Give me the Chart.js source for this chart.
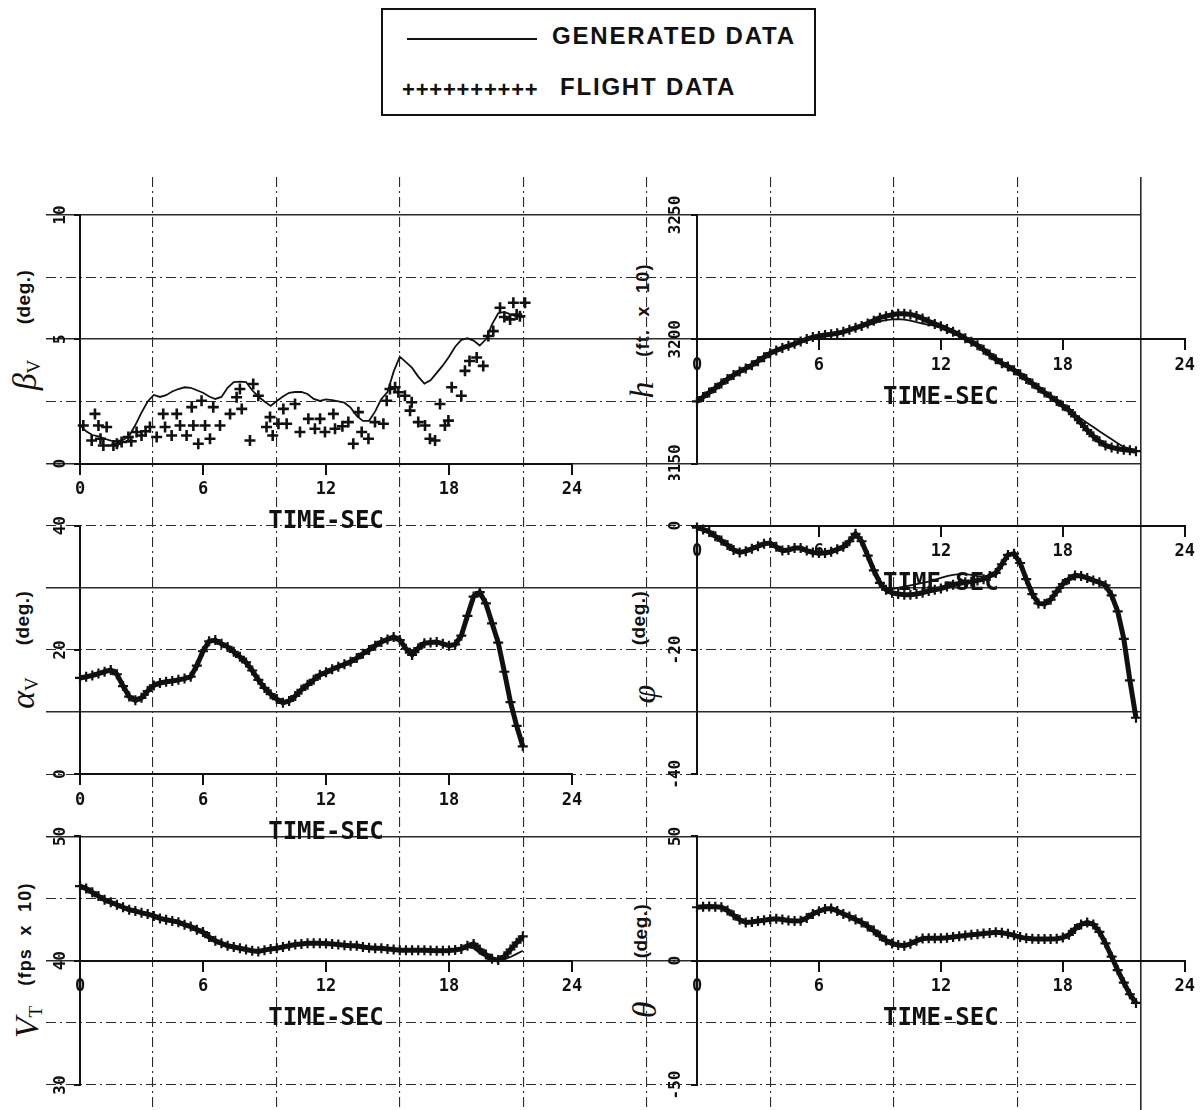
<!DOCTYPE html>
<html lang="en">
<head>
  <meta charset="UTF-8">
  <title>Generated data vs flight data</title>
  <script src="https://cdn.jsdelivr.net/npm/chart.js@4.4.0/dist/chart.umd.min.js"></script>
  <style>
    html, body { margin: 0; padding: 0; background: #fff; }
    body { position: relative; width: 1201px; height: 1110px; overflow: hidden; font-family: "Liberation Sans", Arial, sans-serif; color: #111; }
    canvas { position: absolute; }
    .legend { position: absolute; left: 381px; top: 8px; width: 435px; height: 108px; border: 2px solid #111; box-sizing: border-box; }
    .legend div { position: absolute; white-space: nowrap; }
    .key-line { left: 24px; top: 28px; width: 130px; height: 2px; background: #111; }
    .key-text { font-weight: bold; font-size: 24px; line-height: 24px; letter-spacing: 1.8px; }
    .key-plus { font-weight: bold; font-size: 22px; line-height: 22px; letter-spacing: 0.8px; }
    .vlab { position: absolute; white-space: nowrap; transform: translate(-50%, -50%) rotate(-90deg); line-height: 1; }
    .sym { font-family: "Liberation Serif", serif; font-style: italic; font-size: 34px; }
    .sym sub { font-size: 19px; font-style: normal; vertical-align: -4px; }
    .unit { font-size: 19px; font-weight: bold; letter-spacing: 0.5px; }
    .unit.w { font-size: 18px; letter-spacing: 1.2px; }
  </style>
</head>
<body>
  <div class="legend">
    <div class="key-line"></div>
    <div class="key-text" style="left:169px; top:14px;">GENERATED DATA</div>
    <div class="key-plus" style="left:19px; top:69px;">++++++++++</div>
    <div class="key-text" style="left:177px; top:65px;">FLIGHT DATA</div>
  </div>

  <!-- axis names, left column -->
  <div class="vlab sym" style="left:25px; top:375px;">β<sub>V</sub></div>
  <div class="vlab unit" style="left:23px; top:297px;">(deg.)</div>
  <div class="vlab sym" style="left:23px; top:693px;">α<sub>V</sub></div>
  <div class="vlab unit" style="left:22px; top:618px;">(deg.)</div>
  <div class="vlab sym" style="left:27px; top:1022px;">V<sub>T</sub></div>
  <div class="vlab unit w" style="left:25px; top:934px;">(fps&nbsp; x&nbsp; 10)</div>
  <!-- axis names, right column -->
  <div class="vlab sym" style="left:642px; top:390px;">h</div>
  <div class="vlab unit w" style="left:643px; top:310px;">(ft.&nbsp; x&nbsp; 10)</div>
  <div class="vlab sym" style="left:644px; top:694px;">φ</div>
  <div class="vlab unit" style="left:638px; top:618px;">(deg.)</div>
  <div class="vlab sym" style="left:645px; top:1010px;">θ</div>
  <div class="vlab unit" style="left:640px; top:931px;">(deg.)</div>

  <script>
    // --- Values (time in seconds) ---
    const timeSec = [0, 0.3, 0.6, 0.9, 1.2, 1.5, 1.8, 2.1, 2.4, 2.7,
      3.0, 3.3, 3.6, 3.9, 4.2, 4.5, 4.8, 5.1, 5.4, 5.7,
      6.0, 6.3, 6.6, 6.9, 7.2, 7.5, 7.8, 8.1, 8.4, 8.7,
      9.0, 9.3, 9.6, 9.9, 10.2, 10.5, 10.8, 11.1, 11.4, 11.7,
      12.0, 12.3, 12.6, 12.9, 13.2, 13.5, 13.8, 14.1, 14.4, 14.7,
      15.0, 15.3, 15.6, 15.9, 16.2, 16.5, 16.8, 17.1, 17.4, 17.7,
      18.0, 18.3, 18.6, 18.9, 19.2, 19.5, 19.8, 20.1, 20.4, 20.7,
      21.0, 21.3, 21.6];

    // sideslip beta_V (deg)
    const betaGen = [1.55, 1.30, 1.15, 1.10, 1.00, 0.92, 0.90, 0.95, 1.12, 1.55,
      2.05, 2.50, 2.76, 2.68, 2.75, 2.90, 3.00, 3.07, 3.05, 2.95,
      2.85, 2.70, 2.60, 2.68, 3.05, 3.28, 3.30, 3.28, 2.95, 2.70,
      2.50, 2.32, 2.52, 2.70, 2.85, 2.88, 2.88, 2.80, 2.60, 2.52,
      2.58, 2.55, 2.50, 2.45, 2.25, 1.92, 1.72, 1.72, 2.10, 2.60,
      2.88, 3.70, 4.30, 4.08, 3.85, 3.50, 3.22, 3.35, 3.65, 3.95,
      4.30, 4.70, 4.98, 5.04, 4.95, 4.75, 5.00, 5.60, 6.05, 6.10,
      6.00, 5.92, 5.88];
    const betaFlightTime = [0.16, 0.57, 0.73, 0.9, 1.0, 1.14, 1.3, 1.63, 1.8, 2.03,
      2.36, 2.5, 2.76, 3.0, 3.2, 3.41, 3.74, 4.06, 4.15, 4.47,
      4.72, 4.88, 5.2, 5.45, 5.53, 5.77, 5.93, 6.1, 6.34, 6.5,
      6.83, 7.32, 7.64, 7.8, 7.89, 8.29, 8.45, 8.7, 9.1, 9.27,
      9.4, 9.68, 9.92, 10.08, 10.49, 10.73, 11.14, 11.46, 11.71, 11.95,
      12.36, 12.44, 12.8, 13.09, 13.33, 13.58, 13.74, 14.07, 14.39, 14.8,
      14.96, 15.12, 15.37, 15.53, 15.85, 16.1, 16.18, 16.5, 16.83, 17.07,
      17.32, 17.56, 17.8, 17.97, 18.13, 18.6, 18.78, 19.0, 19.35, 19.67,
      19.92, 20.16, 20.49, 20.7, 20.98, 21.14, 21.3, 21.46, 21.71];
    const betaFlightVal = [1.53, 0.93, 2.0, 1.53, 1.0, 0.73, 1.47, 0.73, 0.8, 0.87,
      1.07, 0.9, 1.27, 1.13, 1.3, 1.47, 1.07, 2.0, 1.47, 1.13,
      2.0, 1.53, 1.13, 2.27, 1.53, 0.8, 2.53, 1.53, 1.0, 2.27,
      1.53, 2.0, 2.67, 3.0, 2.2, 0.93, 3.2, 2.73, 1.47, 1.87,
      1.13, 1.6, 2.2, 1.6, 2.4, 1.27, 1.8, 1.4, 1.8, 1.27,
      2.0, 1.4, 1.5, 1.67, 0.8, 2.07, 1.27, 1.0, 1.67, 1.6,
      2.53, 3.0, 3.07, 2.87, 2.73, 2.13, 2.47, 1.67, 1.53, 1.0,
      0.93, 2.4, 1.53, 1.73, 3.07, 2.73, 3.73, 4.13, 4.27, 3.93,
      5.13, 5.33, 6.27, 5.9, 5.8, 6.47, 6.0, 5.93, 6.47];

    // altitude h (ft x 10)
    const hGen = [3175.0, 3176.8, 3178.6, 3180.4, 3182.2, 3184.0, 3185.6, 3187.0, 3188.3, 3189.6,
      3191.2, 3192.8, 3194.4, 3195.5, 3196.5, 3197.4, 3198.2, 3199.1, 3200.1, 3200.9,
      3201.3, 3201.7, 3202.0, 3202.4, 3203.0, 3203.6, 3204.2, 3204.9, 3205.6, 3206.4,
      3207.2, 3207.7, 3208.0, 3208.1, 3207.9, 3207.5, 3206.9, 3206.3, 3205.8, 3205.5,
      3204.8, 3203.9, 3203.0, 3201.8, 3200.4, 3199.0, 3197.6, 3195.8, 3193.9, 3192.0,
      3190.4, 3189.1, 3187.6, 3185.9, 3184.0, 3182.2, 3180.4, 3178.6, 3176.9, 3175.2,
      3173.3, 3171.5, 3169.7, 3168.0, 3166.3, 3164.7, 3163.0, 3161.4, 3159.8, 3158.2,
      3156.7, 3155.9, 3155.0];
    const hFlight = [3175.0, 3176.8, 3178.6, 3180.4, 3182.2, 3184.0, 3185.6, 3187.0, 3188.3, 3189.6,
      3191.2, 3192.8, 3194.4, 3195.5, 3196.5, 3197.4, 3198.2, 3199.1, 3200.1, 3200.9,
      3201.3, 3201.7, 3202.0, 3202.4, 3203.0, 3203.8, 3204.6, 3205.4, 3206.4, 3207.5,
      3208.7, 3209.3, 3209.9, 3210.3, 3210.3, 3210.0, 3209.4, 3208.4, 3207.2, 3206.2,
      3205.2, 3204.1, 3203.0, 3201.8, 3200.4, 3199.0, 3197.6, 3195.8, 3193.9, 3192.0,
      3190.4, 3189.1, 3187.6, 3185.9, 3184.0, 3182.2, 3180.4, 3178.6, 3176.9, 3175.2,
      3173.3, 3171.5, 3169.0, 3166.3, 3163.5, 3161.0, 3159.0, 3157.3, 3156.5, 3156.0,
      3155.6, 3155.4, 3155.0];

    // angle of attack alpha_V (deg) - generated curve lies under the crosses
    const alphaFlight = [15.5, 15.7, 15.9, 16.2, 16.5, 16.8, 16.1, 14.2, 12.5, 11.9,
      12.3, 13.4, 14.3, 14.7, 14.9, 15.0, 15.2, 15.4, 15.7, 17.5,
      19.8, 21.4, 21.6, 21.0, 20.5, 19.7, 18.9, 18.0, 16.7, 15.2,
      13.9, 12.9, 12.1, 11.5, 11.8, 12.6, 13.6, 14.4, 15.2, 16.0,
      16.4, 16.9, 17.3, 17.7, 18.1, 18.7, 19.4, 20.0, 20.7, 21.3,
      21.7, 22.1, 21.6, 20.2, 19.2, 20.3, 21.1, 21.2, 21.3, 21.0,
      20.7, 20.9, 22.3, 25.5, 28.6, 29.3, 27.5, 24.3, 21.2, 16.5,
      11.6, 7.8, 4.5];
    const alphaGen = alphaFlight;

    // bank angle phi (deg)
    const phiGen = [-0.3, -0.6, -1.0, -1.7, -2.4, -3.1, -3.9, -4.3, -4.1, -3.7,
      -3.3, -2.9, -2.8, -3.4, -4.0, -3.9, -3.6, -3.6, -4.0, -4.3,
      -4.4, -4.4, -4.2, -3.8, -3.4, -2.5, -1.3, -2.5, -4.8, -7.2,
      -9.2, -10.0, -10.2, -10.0, -9.8, -9.6, -9.4, -9.2, -9.0, -8.7,
      -8.4, -8.1, -7.9, -7.8, -7.8, -7.9, -8.1, -8.2, -8.0, -7.6,
      -6.2, -4.7, -4.5, -6.0, -8.6, -11.0, -12.5, -12.6, -11.9, -10.6,
      -9.4, -8.6, -8.0, -8.1, -8.4, -8.8, -9.1, -9.6, -11.2, -13.8,
      -18.2, -24.9, -30.9];
    const phiFlight = [-0.3, -0.6, -1.0, -1.7, -2.4, -3.1, -3.9, -4.3, -4.1, -3.7,
      -3.3, -2.9, -2.8, -3.4, -4.0, -3.9, -3.6, -3.6, -4.0, -4.3,
      -4.4, -4.4, -4.2, -3.8, -3.4, -2.5, -1.3, -2.5, -4.8, -7.2,
      -9.2, -10.3, -10.8, -11.0, -11.1, -11.1, -11.0, -10.8, -10.5, -10.3,
      -10.1, -9.8, -9.5, -9.3, -9.1, -9.0, -8.8, -8.6, -8.1, -7.6,
      -6.2, -4.7, -4.5, -6.0, -8.6, -11.0, -12.5, -12.6, -11.9, -10.6,
      -9.4, -8.6, -8.0, -8.1, -8.4, -8.8, -9.1, -9.6, -11.2, -13.8,
      -18.2, -24.9, -30.9];

    // true airspeed V_T (fps x 10)
    const vtGen = [46.0, 45.8, 45.5, 45.2, 44.9, 44.7, 44.5, 44.3, 44.1, 44.0,
      43.85, 43.75, 43.6, 43.4, 43.3, 43.2, 43.1, 42.9, 42.75, 42.5,
      42.3, 41.9, 41.6, 41.4, 41.2, 41.1, 41.0, 40.9, 40.8, 40.75,
      40.85, 40.95, 41.0, 41.1, 41.2, 41.3, 41.35, 41.4, 41.4, 41.4,
      41.38, 41.35, 41.3, 41.25, 41.2, 41.2, 41.1, 41.05, 41.0, 41.0,
      40.95, 40.9, 40.85, 40.85, 40.85, 40.85, 40.85, 40.82, 40.8, 40.8,
      40.82, 40.86, 40.95, 41.1, 41.0, 40.6, 40.3, 40.05, 40.0, 40.1,
      40.3, 40.55, 40.8];
    const vtFlight = [46.0, 45.8, 45.5, 45.2, 44.9, 44.7, 44.5, 44.3, 44.1, 44.0,
      43.85, 43.75, 43.6, 43.4, 43.3, 43.2, 43.1, 42.9, 42.75, 42.5,
      42.3, 41.9, 41.6, 41.4, 41.2, 41.1, 41.0, 40.9, 40.8, 40.75,
      40.85, 40.95, 41.0, 41.1, 41.2, 41.3, 41.35, 41.4, 41.4, 41.4,
      41.38, 41.35, 41.3, 41.25, 41.2, 41.2, 41.1, 41.05, 41.0, 41.0,
      40.95, 40.9, 40.85, 40.85, 40.85, 40.85, 40.85, 40.82, 40.8, 40.8,
      40.82, 40.86, 40.95, 41.2, 41.35, 40.9, 40.5, 40.15, 40.05, 40.35,
      40.9, 41.45, 41.95];

    // pitch theta (deg) - generated curve lies under the crosses
    const thetaFlight = [21.5, 21.7, 21.8, 21.7, 21.5, 20.2, 18.3, 16.5, 15.4, 15.6,
      16.0, 16.3, 16.7, 16.9, 16.6, 16.2, 16.0, 16.1, 17.2, 18.8,
      19.9, 20.8, 21.0, 20.0, 18.8, 17.8, 16.6, 15.4, 13.8, 12.1,
      10.0, 8.1, 6.9, 6.3, 6.0, 6.8, 8.0, 8.9, 9.0, 9.0,
      9.0, 9.2, 9.5, 9.8, 10.1, 10.4, 10.6, 10.9, 11.1, 11.4,
      11.2, 10.8, 10.2, 9.5, 9.0, 8.8, 8.7, 8.7, 8.7, 8.8,
      9.3, 10.4, 12.8, 14.6, 15.4, 14.6, 11.6, 7.0, 1.6, -3.8,
      -8.8, -13.5, -17.0];
    const thetaGen = thetaFlight;

    // --- Tick labels ---
    const timeTicks = [0, 6, 12, 18, 24];
    const betaTicks = [0, 5, 10];
    const hTicks = [3150, 3200, 3250];
    const alphaTicks = [0, 20, 40];
    const phiTicks = [-40, -20, 0];
    const vtTicks = [30, 40, 50];
    const thetaTicks = [-50, 0, 50];

    // page grid of the plotting paper (columns / rows in grid units)
    const gridCols = [0, 1, 2, 3, 4, 5, 6, 7, 8];
    const gridRows = [0, 1, 2, 3, 4, 5, 6, 7, 8, 9, 10, 11, 12, 13, 14];
    const solidRows = [0, 2, 4, 6, 8, 10, 12];
    const solidCols = [8];

    const ink = '#111';
    const dashDot = [10, 4, 2, 4];
    const yTickLen = 6;
    const yTickFont = { family: 'DejaVu Sans Mono', size: 16, weight: 'bold' };

    // --- Helpers ---
    function toPoints(xs, ys) {
      return xs.map((x, i) => ({ x: x, y: ys[i] }));
    }

    function fixedTicks(values) {
      return function (axis) {
        axis.ticks = values.map(v => ({ value: v }));
      };
    }

    function makeCanvas(id, left, top, width, height) {
      const c = document.createElement('canvas');
      c.id = id;
      c.width = width;
      c.height = height;
      c.style.left = left + 'px';
      c.style.top = top + 'px';
      c.style.width = width + 'px';
      c.style.height = height + 'px';
      document.body.appendChild(c);
      return c.getContext('2d');
    }

    // padding so the rotated y labels sit centred about `offset` px left of the axis
    function yLabelPad(labels, offset) {
      const m = document.createElement('canvas').getContext('2d');
      m.font = 'bold 16px "DejaVu Sans Mono"';
      const widest = Math.max(...labels.map(v => m.measureText(String(v)).width));
      return offset - yTickLen - widest / 2;
    }

    function isSolid(c, list) {
      return c.tick && list.includes(c.tick.value);
    }

    // --- Background grid of the paper ---
    function initGrid() {
      const ctx = makeCanvas('paper', 0, 170, 1201, 940);
      new Chart(ctx, {
        type: 'scatter',
        data: { datasets: [] },
        options: {
          responsive: false,
          animation: false,
          devicePixelRatio: 1,
          events: [],
          layout: { autoPadding: false, padding: { left: 46, right: 60, top: 7, bottom: 0 } },
          plugins: { legend: { display: false }, tooltip: { enabled: false } },
          scales: {
            x: {
              type: 'linear', min: -0.866, max: 8,
              afterBuildTicks: fixedTicks(gridCols),
              ticks: { display: false },
              border: { display: false, dash: c => isSolid(c, solidCols) ? [] : dashDot },
              grid: { drawTicks: false, color: '#2a2a2a', lineWidth: c => isSolid(c, solidCols) ? 1.6 : 1.1 }
            },
            y: {
              type: 'linear', reverse: true, min: -0.6115, max: 14.403,
              afterBuildTicks: fixedTicks(gridRows),
              ticks: { display: false },
              border: { display: false, dash: c => isSolid(c, solidRows) ? [] : dashDot },
              grid: { drawTicks: false, color: '#2a2a2a', lineWidth: c => isSolid(c, solidRows) ? 1.6 : 1.1 }
            }
          }
        }
      });
    }

    // --- One plot panel ---
    function initPanel(p) {
      const ctx = makeCanvas(p.id, p.left, p.top, p.width, p.height);
      const flightPts = p.flightTime ? toPoints(p.flightTime, p.flight) : toPoints(timeSec, p.flight);
      new Chart(ctx, {
        type: 'scatter',
        data: {
          datasets: [{
            label: 'GENERATED DATA',
            data: toPoints(timeSec, p.gen),
            showLine: true,
            borderColor: ink,
            borderWidth: 1.8,
            pointRadius: 0,
            clip: false,
            order: 1
          }, {
            label: 'FLIGHT DATA',
            data: flightPts,
            showLine: p.band,
            borderColor: ink,
            borderWidth: 5,
            pointStyle: 'cross',
            pointRadius: p.band ? 5 : 5.5,
            pointBorderWidth: p.band ? 2.2 : 2.6,
            pointBorderColor: ink,
            clip: false,
            order: 2
          }]
        },
        options: {
          responsive: false,
          animation: false,
          devicePixelRatio: 1,
          events: [],
          layout: {
            autoPadding: false,
            padding: { left: 0, top: p.areaTop - p.top, right: p.left + p.width - p.areaRight, bottom: p.top + p.height - p.areaBottom }
          },
          plugins: { legend: { display: false }, tooltip: { enabled: false } },
          scales: {
            x: {
              type: 'linear', min: 0, max: 24,
              position: { y: p.xAt },
              afterBuildTicks: fixedTicks(timeTicks),
              border: { display: true, color: ink, width: 2 },
              grid: { drawOnChartArea: false, drawTicks: true, tickLength: 10, color: ink, lineWidth: 2 },
              ticks: { color: ink, padding: 6, maxRotation: 0, autoSkip: false,
                font: { family: 'DejaVu Sans Mono', size: 17, weight: 'bold' } },
              title: { display: true, text: 'TIME-SEC', color: ink, padding: { top: 4, bottom: 0 },
                font: { family: 'DejaVu Sans Mono', size: 24, weight: 'bold', lineHeight: 1 } }
            },
            y: {
              type: 'linear', position: 'left', min: p.yTicks[0], max: p.yTicks[2],
              afterBuildTicks: fixedTicks(p.yTicks),
              afterFit: s => { s.width = p.axisX - p.left; },
              border: { display: true, color: ink, width: 2 },
              grid: { drawOnChartArea: false, drawTicks: true, tickLength: yTickLen, color: ink, lineWidth: 2 },
              ticks: { color: ink, font: yTickFont, minRotation: 90, maxRotation: 90, crossAlign: 'center',
                padding: yLabelPad(p.yTicks, p.labelOffset), callback: v => String(v) }
            }
          }
        }
      });
    }

    // panel layout: canvas box, axis position and data
    const panels = [
      { id: 'beta', left: 0, top: 190, width: 600, height: 345, axisX: 80, areaRight: 572, areaTop: 215, areaBottom: 463.6,
        labelOffset: 19, xAt: 0, yTicks: betaTicks, gen: betaGen, flight: betaFlightVal, flightTime: betaFlightTime, band: false },
      { id: 'alpha', left: 0, top: 500, width: 600, height: 345, axisX: 80, areaRight: 572, areaTop: 525.7, areaBottom: 774.3,
        labelOffset: 19, xAt: 0, yTicks: alphaTicks, gen: alphaGen, flight: alphaFlight, band: true },
      { id: 'vt', left: 0, top: 810, width: 600, height: 300, axisX: 80, areaRight: 572, areaTop: 836.4, areaBottom: 1085,
        labelOffset: 19, xAt: 40, yTicks: vtTicks, gen: vtGen, flight: vtFlight, band: true },
      { id: 'h', left: 600, top: 190, width: 601, height: 290, axisX: 697, areaRight: 1189, areaTop: 215, areaBottom: 463.6,
        labelOffset: 21, xAt: 3200, yTicks: hTicks, gen: hGen, flight: hFlight, band: true },
      { id: 'phi', left: 600, top: 500, width: 601, height: 300, axisX: 697, areaRight: 1189, areaTop: 525.7, areaBottom: 774.3,
        labelOffset: 21, xAt: 0, yTicks: phiTicks, gen: phiGen, flight: phiFlight, band: true },
      { id: 'theta', left: 600, top: 810, width: 601, height: 300, axisX: 697, areaRight: 1189, areaTop: 836.4, areaBottom: 1085,
        labelOffset: 21, xAt: 0, yTicks: thetaTicks, gen: thetaGen, flight: thetaFlight, band: true }
    ];

    initGrid();
    panels.forEach(initPanel);
  </script>
</body>
</html>
